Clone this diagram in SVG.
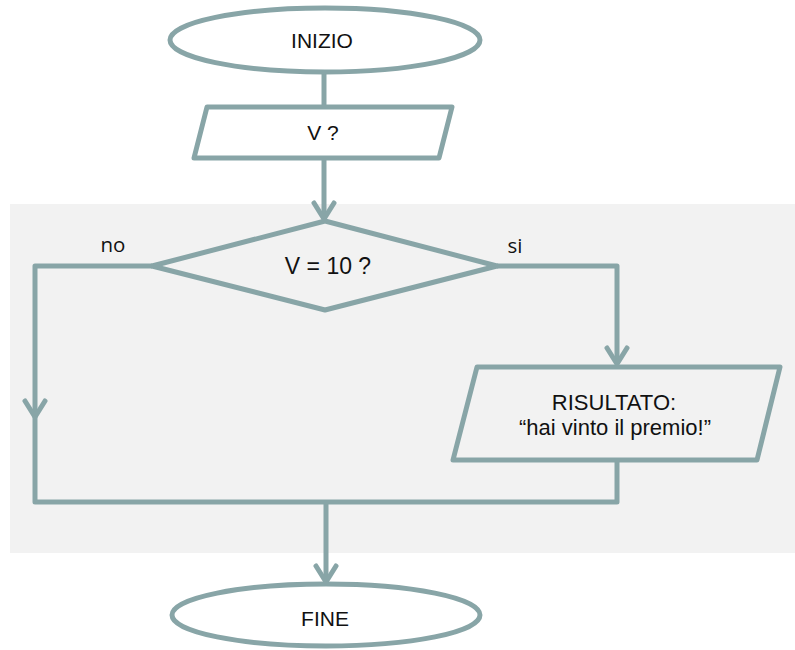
<svg xmlns="http://www.w3.org/2000/svg" width="795" height="650" viewBox="0 0 795 650">
  <defs>
    <style>
      .shape { fill: #ffffff; stroke: #88a5a7; stroke-width: 5; stroke-linejoin: round; }
      .shape-grey { fill: #f2f2f2; stroke: #88a5a7; stroke-width: 5; stroke-linejoin: round; }
      .flow { fill: none; stroke: #88a5a7; stroke-width: 5; stroke-linejoin: round; stroke-linecap: butt; }
      .label { font-family: "Liberation Sans", Arial, sans-serif; font-size: 21px; fill: #111111; text-anchor: middle; }
      .result { font-size: 22px; }
      .branch { font-family: "Open Sans", "Noto Sans", sans-serif; font-size: 20.5px; fill: #111111; text-anchor: middle; }
    </style>
    <marker id="chevron" markerUnits="userSpaceOnUse" viewBox="-20 -14 24 28" refX="0" refY="0" markerWidth="24" markerHeight="28" orient="auto" overflow="visible">
      <path d="M -16 -10 L 0 0 L -16 10" fill="none" stroke="#88a5a7" stroke-width="5" stroke-linecap="round" stroke-linejoin="round"/>
    </marker>
  </defs>

  <!-- panel behind the decision block -->
  <rect x="10" y="204" width="785" height="349" fill="#f2f2f2"/>

  <g id="connectors">
    <path class="flow" d="M 324 72 L 324 107"/>
    <path class="flow" d="M 324 158 L 324 219" marker-end="url(#chevron)"/>
    <!-- "no" branch -->
    <path class="flow" d="M 152 266 L 35 266 L 35 417" marker-end="url(#chevron)"/>
    <path class="flow" d="M 35 417 L 35 502 L 326 502"/>
    <!-- "si" branch -->
    <path class="flow" d="M 497 266 L 617 266 L 617 364" marker-end="url(#chevron)"/>
    <path class="flow" d="M 617 460 L 617 502 L 326 502"/>
    <path class="flow" d="M 326 502 L 326 582" marker-end="url(#chevron)"/>
  </g>

  <g id="inizio">
    <ellipse class="shape" cx="325" cy="40" rx="155" ry="32"/>
    <text class="label" x="322" y="48">INIZIO</text>
  </g>

  <g id="input-v">
    <polygon class="shape" points="207,107 452,107 439,158 194,158"/>
    <text class="label" x="323" y="140">V ?</text>
  </g>

  <g id="decision">
    <polygon class="shape-grey" points="325,221 497,266 325,310 152,266"/>
    <text class="label" x="328" y="274" style="font-size:23px">V = 10 ?</text>
  </g>

  <g id="branch-labels">
    <text class="branch" x="113" y="252">no</text>
    <text class="branch" x="515" y="253">si</text>
  </g>

  <g id="output-result">
    <polygon class="shape-grey" points="477,367 780,367 757,460 453,460"/>
    <text class="label result" x="614" y="410">RISULTATO:</text>
    <text class="label result" x="615" y="435">“hai vinto il premio!”</text>
  </g>

  <g id="fine">
    <ellipse class="shape" cx="326" cy="615" rx="154" ry="31"/>
    <text class="label" x="325" y="626">FINE</text>
  </g>
</svg>
